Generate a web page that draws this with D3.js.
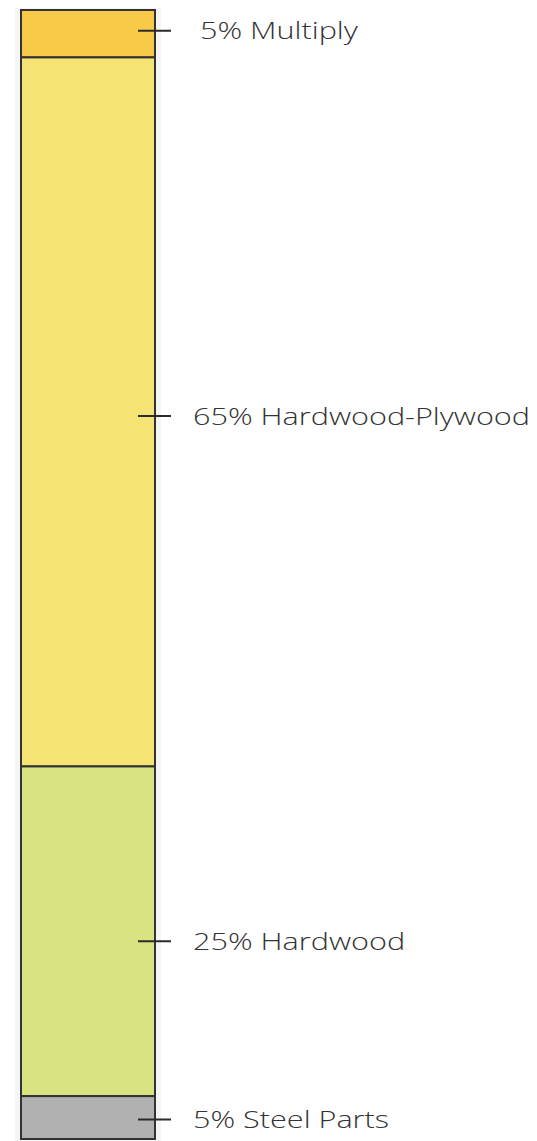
<!DOCTYPE html>
<html><head><meta charset="utf-8">
<script src="https://cdn.jsdelivr.net/npm/d3@7"></script>
<style>body{margin:0;background:#fff}svg{display:block}</style>
</head><body>
<script>
// Data
const categories = ["Multiply", "Hardwood-Plywood", "Hardwood", "Steel Parts"];
const labelPercents = [5, 65, 25, 5];
// segment sizes as drawn in the reference (share of bar height)
const drawnShares = [4.2, 62.8, 29.2, 3.8];
const colors = ["#F9C948", "#F5E373", "#D9E382", "#B1B1B1"];

(function () {
const W = 537, H = 1141;
const svg = d3.select("body").append("svg").attr("width", W).attr("height", H);

const barX0 = 21, barX1 = 155, barTop = 10, barBottom = 1139;
const total = d3.sum(drawnShares);
const y = d3.scaleLinear().domain([0, total]).range([barTop, barBottom]);

const stacked = [];
let acc = 0;
drawnShares.forEach((v, i) => { stacked.push({cat: categories[i], pct: labelPercents[i], y0: acc, y1: acc + v, color: colors[i]}); acc += v; });

// label nudges (style)
const nudge = {"Multiply": -3, "Hardwood-Plywood": 4, "Hardwood": 10, "Steel Parts": 2};
const indent = {"Multiply": 7};

// faint shadow
svg.append("rect").attr("x", barX0 - 6).attr("y", y(0) - 2).attr("width", barX1 - barX0 + 12).attr("height", y(total) - y(0) + 4)
  .attr("fill", "#f5f5f5");

svg.selectAll("rect.seg").data(stacked).join("rect").attr("class", "seg")
  .attr("x", barX0).attr("width", barX1 - barX0)
  .attr("y", d => y(d.y0)).attr("height", d => y(d.y1) - y(d.y0))
  .attr("fill", d => d.color).attr("stroke", "#333").attr("stroke-width", 2);

const lbl = svg.selectAll("g.lbl").data(stacked).join("g").attr("class", "lbl")
  .attr("transform", d => `translate(0,${(y(d.y0) + y(d.y1)) / 2 + (nudge[d.cat] || 0)})`);
lbl.append("line").attr("x1", 138).attr("x2", 171).attr("stroke", "#2a2a2a").attr("stroke-width", 2);
const texts = lbl.append("text").attr("x", d => 193 + (indent[d.cat] || 0)).attr("dy", "0.36em")
  .attr("font-family", "'Open Sans', sans-serif").attr("font-weight", 300).attr("font-size", 24)
  .attr("fill", "#333")
  .text(d => `${d.pct}% ${d.cat}`);
// widen glyphs to mimic the wide geometric typeface of the original
const longest = texts.filter(d => d.cat === "Hardwood-Plywood").node();
const sx = 337 / longest.getComputedTextLength();
texts.each(function () {
  const len = this.getComputedTextLength();
  d3.select(this).attr("textLength", len * sx).attr("lengthAdjust", "spacingAndGlyphs");
});
})();
</script>
</body></html>
